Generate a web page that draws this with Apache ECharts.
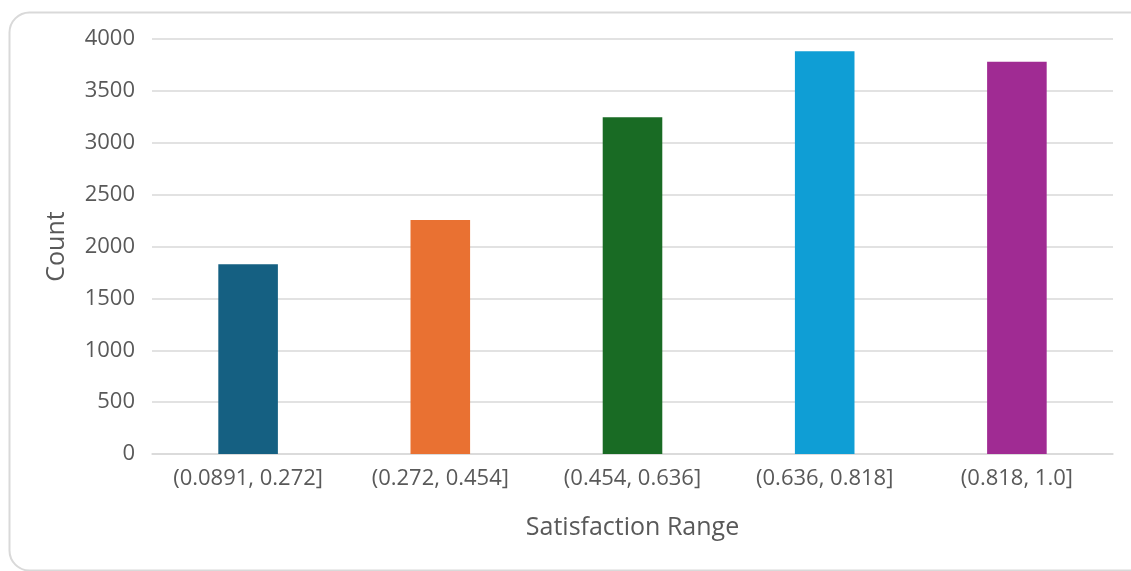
<!DOCTYPE html>
<html>
<head>
<meta charset="utf-8">
<title>Count by Satisfaction Range</title>
<script src="https://cdn.jsdelivr.net/npm/echarts@6/dist/echarts.min.js"></script>
<style>
  html, body { margin: 0; padding: 0; background: #ffffff; }
  #chart { width: 1131px; height: 571px; }
</style>
</head>
<body>
<div id="chart"></div>
<script>
// Satisfaction buckets and how many responses fall into each
const categories = ['(0.0891, 0.272]', '(0.272, 0.454]', '(0.454, 0.636]', '(0.636, 0.818]', '(0.818, 1.0]'];
const counts = [1828, 2255, 3245, 3881, 3781];
const barColors = ['#156082', '#E97132', '#196B24', '#0F9ED5', '#A02B93'];

const yTicks = { min: 0, max: 4000, interval: 500 };

const textColor = '#595959';
const fontFamily = '"Open Sans", "Noto Sans", sans-serif';

const chart = echarts.init(document.getElementById('chart'), null, { renderer: 'canvas' });

chart.setOption({
  backgroundColor: '#ffffff',
  animation: false,
  graphic: [{
    type: 'rect',
    left: 7,
    top: 10,
    shape: { width: 1145, height: 558, r: 20 },
    style: { fill: 'none', stroke: '#d9d9d9', lineWidth: 2 },
    silent: true,
    z: -10
  }],
  grid: { left: 152, right: 18, top: 39, bottom: 117, containLabel: false },
  xAxis: {
    type: 'category',
    data: categories,
    name: 'Satisfaction Range',
    nameLocation: 'middle',
    nameGap: 61,
    nameTextStyle: { color: textColor, fontSize: 25, fontFamily: fontFamily },
    axisLine: { show: true, lineStyle: { color: '#d9d9d9', width: 1.5 } },
    axisTick: { show: false },
    axisLabel: { color: textColor, fontSize: 22, fontFamily: fontFamily, margin: 14, interval: 0 }
  },
  yAxis: {
    type: 'value',
    min: yTicks.min,
    max: yTicks.max,
    interval: yTicks.interval,
    name: 'Count',
    nameLocation: 'middle',
    nameGap: 83,
    nameTextStyle: { color: textColor, fontSize: 25, fontFamily: fontFamily },
    axisLine: { show: false },
    axisTick: { show: false },
    axisLabel: {
      color: textColor, fontSize: 22, fontFamily: fontFamily, margin: 17,
      formatter: (v) => String(v)
    },
    splitLine: { lineStyle: { color: '#d9d9d9', width: 1.5 } }
  },
  series: [{
    type: 'bar',
    data: counts.map((v, i) => ({ value: v, itemStyle: { color: barColors[i] } })),
    barWidth: '31%'
  }]
});
</script>
</body>
</html>
